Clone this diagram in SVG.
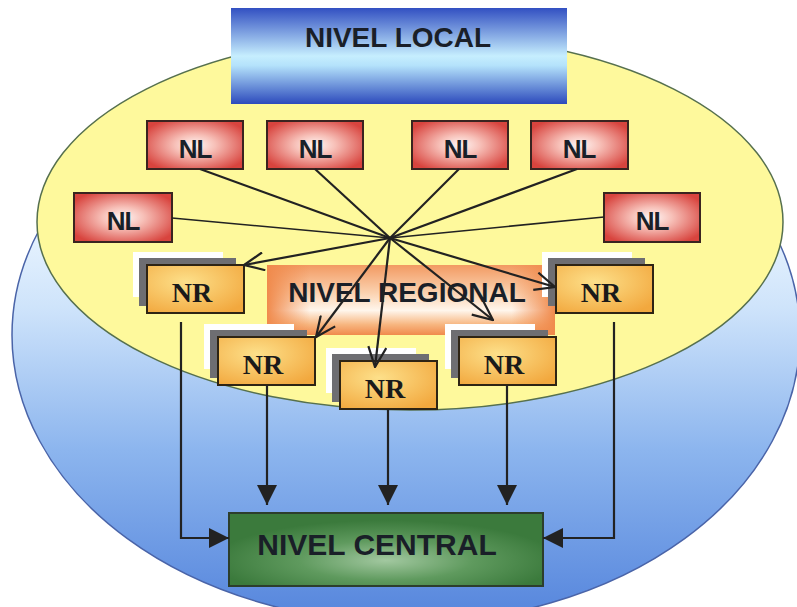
<svg xmlns="http://www.w3.org/2000/svg" width="797" height="607" viewBox="0 0 797 607">
<style>
.t{font-family:"Liberation Sans",Arial,sans-serif;font-weight:bold;fill:#1a1f28;text-anchor:middle}
.nr{font-family:"Liberation Serif","Times New Roman",serif;font-weight:bold;font-size:28px;fill:#1a1a1a;text-anchor:middle}
.nlt{font-size:26px;letter-spacing:-1px}
.nlbox{fill:url(#gNL);stroke:#3a2420;stroke-width:2}
.nrbox{fill:url(#gNR);stroke:#2e2414;stroke-width:2}
.sh{fill:#6e6e72}
.wh{fill:#ffffff}
.ln{stroke:#222222;stroke-width:2.2;fill:none}
.lnt{stroke:#222222;stroke-width:1.6;fill:none}
</style>
<defs>
<linearGradient id="gBlue" x1="0" y1="0" x2="0" y2="1">
<stop offset="0.3" stop-color="#eaf5ff"/>
<stop offset="0.45" stop-color="#cfe4fb"/>
<stop offset="0.7" stop-color="#8cb5ee"/>
<stop offset="1" stop-color="#5484dc"/>
</linearGradient>
<linearGradient id="gLocal" x1="0" y1="0" x2="0" y2="1">
<stop offset="0" stop-color="#3250c2"/>
<stop offset="0.5" stop-color="#c6eefe"/>
<stop offset="0.6" stop-color="#b4e2fb"/>
<stop offset="1" stop-color="#2c4abc"/>
</linearGradient>
<radialGradient id="gNL" cx="0.5" cy="0.5" r="0.6">
<stop offset="0" stop-color="#fff6f4"/>
<stop offset="0.35" stop-color="#f7c0b8"/>
<stop offset="1" stop-color="#d8443e"/>
</radialGradient>
<radialGradient id="gNR" cx="0.4" cy="0.35" r="0.75">
<stop offset="0" stop-color="#fde08a"/>
<stop offset="1" stop-color="#f2a83e"/>
</radialGradient>
<linearGradient id="gReg" x1="0" y1="0" x2="0" y2="1">
<stop offset="0" stop-color="#f29a62"/>
<stop offset="0.4" stop-color="#fbd2b0"/>
<stop offset="0.65" stop-color="#fff6ec"/>
<stop offset="0.85" stop-color="#f7b680"/>
<stop offset="1" stop-color="#f08a4c"/>
</linearGradient>
<linearGradient id="gRegH" x1="0" y1="0" x2="1" y2="0">
<stop offset="0" stop-color="#f08a4c" stop-opacity="1"/>
<stop offset="0.15" stop-color="#f08a4c" stop-opacity="0"/>
<stop offset="0.85" stop-color="#f08a4c" stop-opacity="0"/>
<stop offset="1" stop-color="#f08a4c" stop-opacity="1"/>
</linearGradient>
<radialGradient id="gCen" cx="0.5" cy="0.65" r="0.55">
<stop offset="0" stop-color="#a2c8a0"/>
<stop offset="0.5" stop-color="#5f9a5e"/>
<stop offset="1" stop-color="#3b7a3c"/>
</radialGradient>
<marker id="open" viewBox="0 0 22 20" refX="21" refY="10" markerWidth="22" markerHeight="20" markerUnits="userSpaceOnUse" orient="auto">
<path d="M1,1 L21,10 L1,19" fill="none" stroke="#222222" stroke-width="2.2"/>
</marker>
<marker id="fill" viewBox="0 0 20 20" refX="20" refY="10" markerWidth="20" markerHeight="20" markerUnits="userSpaceOnUse" orient="auto">
<path d="M0,0 L20,10 L0,20 Z" fill="#222222"/>
</marker>
</defs>

<g id="backgrounds">
<ellipse cx="406" cy="335" rx="394" ry="288" fill="url(#gBlue)" stroke="#4a64a8" stroke-width="1.5"/>
<ellipse cx="410" cy="222" rx="373" ry="188" fill="#fef99c" stroke="#56704e" stroke-width="1.5"/>
</g>

<g id="nivel-local">
<rect x="231" y="8" width="336" height="96" fill="url(#gLocal)"/>
<text class="t" x="398" y="47" font-size="28">NIVEL LOCAL</text>
</g>

<g id="nivel-regional">
<rect x="267" y="265" width="288" height="70" fill="url(#gReg)"/>
<rect x="267" y="265" width="288" height="70" fill="url(#gRegH)"/>
<text class="t" x="407" y="302" font-size="28">NIVEL REGIONAL</text>
</g>

<g id="nivel-central">
<rect x="229" y="513" width="314" height="73" fill="url(#gCen)" stroke="#2c3e2c" stroke-width="2"/>
<text class="t" x="377" y="555" font-size="30">NIVEL CENTRAL</text>
</g>

<g id="nl1"><rect class="nlbox" x="147" y="121" width="96" height="48"/><text class="t nlt" x="195" y="158">NL</text></g>
<g id="nl2"><rect class="nlbox" x="267" y="121" width="96" height="48"/><text class="t nlt" x="315" y="158">NL</text></g>
<g id="nl3"><rect class="nlbox" x="412" y="121" width="96" height="48"/><text class="t nlt" x="460" y="158">NL</text></g>
<g id="nl4"><rect class="nlbox" x="531" y="121" width="97" height="48"/><text class="t nlt" x="579" y="158">NL</text></g>
<g id="nl5"><rect class="nlbox" x="74" y="193" width="98" height="49"/><text class="t nlt" x="123" y="230">NL</text></g>
<g id="nl6"><rect class="nlbox" x="604" y="193" width="96" height="49"/><text class="t nlt" x="652" y="230">NL</text></g>

<g id="nr1"><rect class="wh" x="133" y="252" width="90" height="45"/><rect class="sh" x="139" y="258" width="97" height="48"/><rect class="nrbox" x="147" y="265" width="97" height="48"/><text class="nr" x="192" y="302">NR</text></g>
<g id="nr2"><rect class="wh" x="204" y="324" width="90" height="45"/><rect class="sh" x="210" y="330" width="97" height="48"/><rect class="nrbox" x="218" y="337" width="97" height="48"/><text class="nr" x="263" y="374">NR</text></g>
<g id="nr3"><rect class="wh" x="326" y="348" width="90" height="45"/><rect class="sh" x="332" y="354" width="97" height="48"/><rect class="nrbox" x="340" y="361" width="97" height="48"/><text class="nr" x="385" y="398">NR</text></g>
<g id="nr4"><rect class="wh" x="445" y="324" width="90" height="45"/><rect class="sh" x="451" y="330" width="97" height="48"/><rect class="nrbox" x="459" y="337" width="97" height="48"/><text class="nr" x="504" y="374">NR</text></g>
<g id="nr5"><rect class="wh" x="542" y="252" width="90" height="45"/><rect class="sh" x="548" y="258" width="97" height="48"/><rect class="nrbox" x="556" y="265" width="97" height="48"/><text class="nr" x="601" y="302">NR</text></g>

<g id="connectors">
<line class="ln" x1="200" y1="169" x2="390" y2="238"/>
<line class="ln" x1="315" y1="169" x2="390" y2="238"/>
<line class="ln" x1="459" y1="169" x2="390" y2="238"/>
<line class="ln" x1="577" y1="169" x2="390" y2="238"/>
<line class="lnt" x1="172" y1="218" x2="390" y2="238"/>
<line class="lnt" x1="604" y1="217" x2="390" y2="238"/>
<line class="ln" x1="390" y1="238" x2="244" y2="265" marker-end="url(#open)"/>
<line class="ln" x1="390" y1="238" x2="316" y2="337" marker-end="url(#open)"/>
<line class="ln" x1="390" y1="238" x2="375" y2="367" marker-end="url(#open)"/>
<line class="ln" x1="390" y1="238" x2="493" y2="320" marker-end="url(#open)"/>
<line class="ln" x1="390" y1="238" x2="555" y2="287" marker-end="url(#open)"/>
<path class="ln" d="M181,322 V538 H229" marker-end="url(#fill)"/>
<path class="ln" d="M267,385 V505" marker-end="url(#fill)"/>
<path class="ln" d="M388,409 V505" marker-end="url(#fill)"/>
<path class="ln" d="M507,385 V505" marker-end="url(#fill)"/>
<path class="ln" d="M614,322 V538 H543" marker-end="url(#fill)"/>
</g>
</svg>
